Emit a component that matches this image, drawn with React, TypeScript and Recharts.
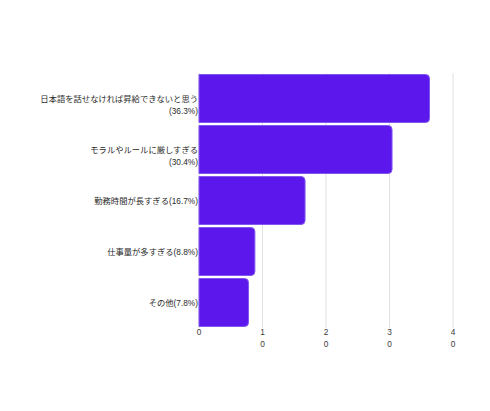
import React from 'react';
import { BarChart, Bar, XAxis, YAxis, CartesianGrid } from 'recharts';

const categories = [
  '日本語を話せなければ昇給できないと思う\n(36.3%)',
  'モラルやルールに厳しすぎる\n(30.4%)',
  '勤務時間が長すぎる(16.7%)',
  '仕事量が多すぎる(8.8%)',
  'その他(7.8%)',
];
const values = [36.3, 30.4, 16.7, 8.8, 7.8];
const xTicks = [0, 10, 20, 30, 40];

const data = categories.map((name, i) => ({ name, value: values[i] }));

const FONT = '"Liberation Sans", "Noto Sans CJK JP", sans-serif';

// カテゴリラベル（改行対応）
const CategoryTick = (props: any) => {
  const { x, y, payload } = props;
  const lines = String(payload.value).split('\n');
  return (
    <text x={x - 1} y={y} textAnchor="end" fontSize={8.3} fill="#2a2a2a" fontFamily={FONT}>
      {lines.map((l, i) => (
        <tspan key={i} x={x - 1} y={y + 3 + i * 12.5}>{l}</tspan>
      ))}
    </text>
  );
};

// 数値ラベル（1文字ずつ縦に並ぶ）
const ValueTick = (props: any) => {
  const { x, y, payload } = props;
  const chars = String(payload.value).split('');
  return (
    <text x={x} y={y} textAnchor="middle" fontSize={8.3} fill="#3a3a3a" fontFamily={FONT}>
      {chars.map((c, i) => (
        <tspan key={i} x={x} y={y + 7 + i * 11.7}>{c}</tspan>
      ))}
    </text>
  );
};

export default function App() {
  return (
    <div style={{ position: 'absolute', left: 0, top: 0, width: 490, height: 411, background: '#fff' }}>
      <BarChart
        width={490}
        height={411}
        data={data}
        layout="vertical"
        margin={{ top: 73, right: 37, left: 0, bottom: 53 }}
        barCategoryGap={1.5}
      >
        <CartesianGrid horizontal={false} stroke="#e0e0e0" />
        <XAxis
          type="number"
          domain={[0, 40]}
          ticks={xTicks}
          axisLine={false}
          tickLine={false}
          tickSize={0}
          tickMargin={0}
          tick={<ValueTick />}
          interval={0}
          height={30}
        />
        <YAxis
          type="category"
          dataKey="name"
          width={199}
          axisLine={false}
          tickLine={false}
          tickSize={0}
          tickMargin={0}
          tick={<CategoryTick />}
          interval={0}
        />
        <Bar
          dataKey="value"
          fill="#5c18ec"
          stroke="#8257f0"
          strokeWidth={1}
          radius={[0, 4, 4, 0]}
          isAnimationActive={false}
        />
      </BarChart>
    </div>
  );
}
